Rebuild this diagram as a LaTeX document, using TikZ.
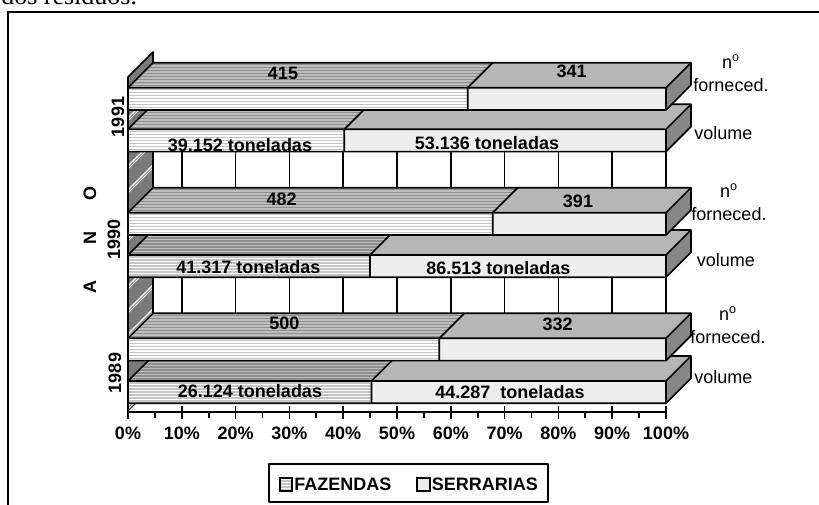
\documentclass[tikz,border=0pt]{standalone}
\usepackage{fontspec}
\setmainfont{Liberation Sans}
\newfontfamily\docserif{Liberation Serif}
\definecolor{fazln}{HTML}{C4C4C4}
\definecolor{faztopbg}{HTML}{BEBEBE}
\definecolor{faztopln}{HTML}{8E8E8E}
\definecolor{serfr}{HTML}{EDEDED}
\definecolor{sertp}{HTML}{B6B6B6}
\definecolor{sersd}{HTML}{878787}
\definecolor{wallc}{HTML}{7A7A7A}
% horizontal stripes inside a clipped region: #1 base colour, #2 line colour, #3 top y, #4 path
\newcommand\stripefill[4]{%
  \begin{scope}
    \clip #4;
    \fill[#1] #4;
    \foreach \sy in {0,3,...,27} \draw[#2, line width=0.8pt] (120,#3-26+\sy) -- (700,#3-26+\sy);
  \end{scope}}
\newcommand\chartbar[2]{%
  \stripefill{white}{fazln}{#1+25}{(128,#1) rectangle (#2,#1+22.3)}
  \path[serfront] (#2,#1) rectangle (666,#1+22.3);
  \stripefill{faztopbg}{faztopln}{#1}{(128,#1) -- (#2,#1) -- (#2+25,#1-25) -- (153,#1-25) -- cycle}
  \path[sertop] (#2,#1) -- (666,#1) -- (691,#1-25) -- (#2+25,#1-25) -- cycle;
  \path[serside] (666,#1) -- (691,#1-25) -- (691,#1-2.7) -- (666,#1+22.3) -- cycle;
  \draw[edge] (128,#1+22.3) -- (128,#1) -- (153,#1-25) -- (691,#1-25) -- (691,#1-2.7) -- (666,#1+22.3) -- cycle;
  \draw[edge] (128,#1) -- (666,#1) -- (691,#1-25) (666,#1) -- (666,#1+22.3);
  \draw[edge] (#2,#1+22.3) -- (#2,#1) -- (#2+25,#1-25);
}
\begin{document}
\begin{tikzpicture}[x=0.75pt,y=-0.75pt,
  lbl/.style={font=\fontsize{13.5}{16}\selectfont\bfseries, inner sep=0pt},
  side/.style={font=\fontsize{13.5}{17.3}\selectfont, inner sep=0pt},
  edge/.style={draw=black, line width=1.25pt, line join=round},
  serfront/.style={fill=serfr},
  sertop/.style={fill=sertp},
  serside/.style={fill=sersd}]
\useasboundingbox (0,0) rectangle (819,505);
\fill[white] (0,0) rectangle (819,505);
% page text and frame
\node[font=\docserif\fontsize{19.5}{20}\selectfont, anchor=base west, inner sep=0pt] (title) at (1,5) {dos resíduos.};
\draw[line width=1.5pt] (8,510) -- (8,12) -- (825,12);
% back wall with gridlines
\fill[white] (153,52) rectangle (666,387);
\foreach \k in {1,...,10} \draw[edge] (128+53.8*\k,63) -- (128+53.8*\k,387);
% left wall
\fill[wallc] (128,77) -- (153,52) -- (153,387) -- (128,412) -- cycle;
\begin{scope}
  \clip (128,77) -- (153,52) -- (153,387) -- (128,412) -- cycle;
  \foreach \y in {70,94,...,430} {
    \draw[white, line width=1pt] (126,\y+2) -- (155,\y-27);
    \draw[white, line width=0.6pt] (126,\y+5) -- (155,\y-24);}
\end{scope}
\draw[edge] (128,77) -- (153,52) -- (153,387) -- (128,412) -- cycle;
% floor
\fill[white] (128,412) -- (153,387) -- (691,387) -- (666,412) -- cycle;
% bars: lower bar of each year first
\chartbar{129.3}{344.3}
\chartbar{87.7}{467.7}
\chartbar{255}{370}
\chartbar{212.7}{492.7}
\chartbar{381}{371.5}
\chartbar{338.3}{439.3}
% axis
\draw[edge] (128,412) -- (666,412);
\foreach \k in {0,...,10} \draw[edge] (128+53.8*\k,406) -- (128+53.8*\k,419);
\foreach \k in {0,...,9} \draw[edge] (154.9+53.8*\k,412) -- (154.9+53.8*\k,418);
\foreach \k [evaluate=\k as \p using int(10*\k)] in {0,...,10}
  \node[lbl] (tick\k) at (128+53.8*\k,433.3) {\p\%};
% data labels
\node[lbl] (v415) at (283,73) {415};
\node[lbl] (v341) at (571.7,71.7) {341};
\node[lbl] (v39) at (240,145) {39.152 toneladas};
\node[lbl] (v53) at (487,143) {53.136 toneladas};
\node[lbl] (v482) at (281.7,199.3) {482};
\node[lbl] (v391) at (578,201.7) {391};
\node[lbl] (v41) at (248.3,267.3) {41.317 toneladas};
\node[lbl] (v86) at (498.3,267.7) {86.513 toneladas};
\node[lbl] (v500) at (284.3,323.3) {500};
\node[lbl] (v332) at (557.7,324) {332};
\node[lbl] (v26) at (250,390.7) {26.124 toneladas};
\node[lbl] (v44) at (510,391.7) {44.287\ \ toneladas};
% series labels on the right
\node[side, align=center] (nf91) at (731,73.3) {n\textsuperscript{o}\\forneced.};
\node[side, anchor=west] (vol91) at (694,133.3) {volume};
\node[side, align=center] (nf90) at (729,202.5) {n\textsuperscript{o}\\forneced.};
\node[side, anchor=west] (vol90) at (696.5,260) {volume};
\node[side, align=center] (nf89) at (728,325) {n\textsuperscript{o}\\forneced.};
\node[side, anchor=west] (vol89) at (694,376.7) {volume};
% year labels
\node[lbl, rotate=90] (y91) at (118,117) {1991};
\node[lbl, rotate=90] (y90) at (114,239.7) {1990};
\node[lbl, rotate=90] (y89) at (115,373) {1989};
\node[lbl, rotate=90] (ano) at (90,193.3) {O};
\node[lbl, rotate=90] (anon) at (90,238.3) {N};
\node[lbl, rotate=90] (anoa) at (90,286.7) {A};
% legend
\draw[edge] (269,464) rectangle (548,502);
\stripefill{white}{fazln}{504}{(280,478) rectangle (292,491)}
\draw[black, line width=1pt] (280,478) rectangle (292,491);
\node[lbl, anchor=west] (lfaz) at (294,484.5) {FAZENDAS};
\path[fill=serfr, draw=black, line width=1pt] (417,478) rectangle (430,491);
\node[lbl, anchor=west] (lser) at (431.5,484.5) {SERRARIAS};
\end{tikzpicture}
\end{document}
